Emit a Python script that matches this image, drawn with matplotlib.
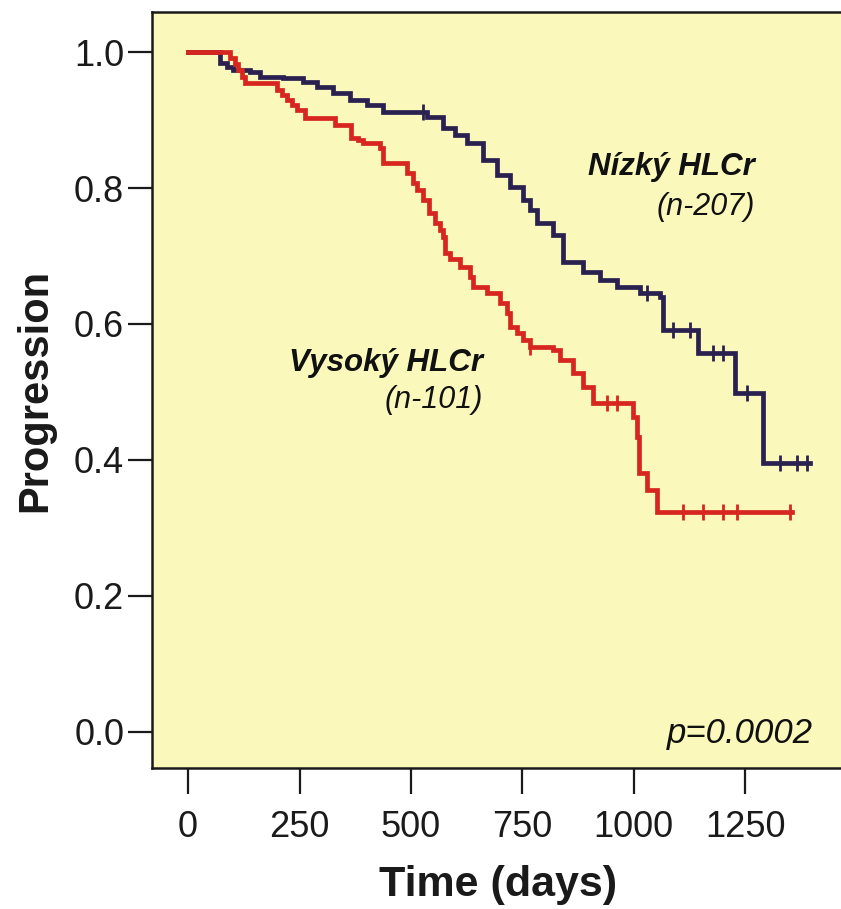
import numpy as np
import matplotlib
matplotlib.use("Agg")
import matplotlib.pyplot as plt

plt.rcParams['font.family'] = ['Liberation Sans', 'DejaVu Sans']

# Kaplan-Meier steps: time (days) and progression-free fraction after each event
low_t = [0, 72, 88, 101, 139, 162, 213, 258, 290, 325, 364, 402, 438, 536, 572,
         599, 626, 662, 693, 722, 752, 768, 783, 819, 842, 886, 925, 963, 1014,
         1059, 1066, 1145, 1228, 1290, 1396]
low_s = [1.0, 0.984, 0.978, 0.974, 0.971, 0.963, 0.962, 0.956, 0.948, 0.940,
         0.929, 0.922, 0.912, 0.905, 0.888, 0.878, 0.866, 0.841, 0.819, 0.801,
         0.782, 0.767, 0.748, 0.731, 0.691, 0.676, 0.665, 0.654, 0.646, 0.639,
         0.591, 0.557, 0.498, 0.396, 0.396]
low_cens = [528, 1030, 1088, 1127, 1178, 1200, 1254, 1329, 1367, 1389]

high_t = [0, 94, 105, 113, 120, 128, 200, 211, 222, 233, 244, 262, 330, 366, 382,
          393, 431, 438, 491, 505, 514, 527, 540, 555, 566, 572, 577, 588, 610,
          633, 640, 671, 700, 716, 723, 738, 752, 768, 819, 835, 864, 886, 909,
          999, 1008, 1012, 1030, 1052, 1355]
high_s = [1.0, 0.991, 0.982, 0.974, 0.963, 0.954, 0.944, 0.937, 0.929, 0.922,
          0.915, 0.903, 0.892, 0.874, 0.870, 0.866, 0.859, 0.837, 0.822, 0.807,
          0.797, 0.782, 0.763, 0.748, 0.738, 0.728, 0.704, 0.695, 0.684, 0.669,
          0.654, 0.646, 0.631, 0.616, 0.595, 0.587, 0.576, 0.566, 0.562, 0.547,
          0.528, 0.507, 0.484, 0.463, 0.434, 0.381, 0.356, 0.323, 0.323]
high_cens = [768, 940, 963, 1111, 1155, 1200, 1232, 1351]

xticks = [0, 250, 500, 750, 1000, 1250]
yticks = [0.0, 0.2, 0.4, 0.6, 0.8, 1.0]

BG = '#FBF8BC'
RED = '#D6261F'
NAVY = '#2B2150'


def surv_at(t, s, x):
    i = np.searchsorted(t, x, side='right') - 1
    return np.asarray(s)[i]


fig = plt.figure(figsize=(8.41, 9.09), dpi=100)
ax = fig.add_axes([152 / 841, 141 / 909, 689 / 841, 756 / 909])
ax.set_facecolor(BG)

ax.step(low_t, low_s, where='post', color=NAVY, lw=3.4, solid_joinstyle='miter')
ax.step(high_t, high_s, where='post', color=RED, lw=3.4, solid_joinstyle='miter')
ax.plot(low_cens, surv_at(low_t, low_s, low_cens), ls='none', marker='|',
        ms=11, mew=2, color=NAVY)
ax.plot(high_cens, surv_at(high_t, high_s, high_cens), ls='none', marker='|',
        ms=11, mew=2, color=RED)

ax.set_xlim(-81, 1465)
ax.set_ylim(-0.0534, 1.059)
ax.set_xticks(xticks)
ax.set_yticks(yticks)
ax.set_xticklabels([str(v) for v in xticks])
ax.set_yticklabels(['%.1f' % v for v in yticks])
ax.tick_params(axis='x', direction='out', length=19, width=1.6, pad=11,
               labelsize=26, colors='#1a1a1a')
ax.tick_params(axis='y', direction='out', length=17, width=1.6, pad=3,
               labelsize=26, colors='#1a1a1a')

for side in ('left', 'bottom', 'top'):
    ax.spines[side].set_linewidth(1.8)
    ax.spines[side].set_color('#1a1a1a')
ax.spines['right'].set_visible(False)

ax.text(1272, 0.831, 'Nízký HLCr', ha='right', va='center', fontsize=22.5,
        fontweight='bold', fontstyle='italic', color='#111111')
ax.text(1272, 0.772, '(n-207)', ha='right', va='center', fontsize=22,
        fontstyle='italic', color='#111111')
ax.text(662, 0.542, 'Vysoký HLCr', ha='right', va='center', fontsize=22.5,
        fontweight='bold', fontstyle='italic', color='#111111')
ax.text(662, 0.488, '(n-101)', ha='right', va='center', fontsize=22,
        fontstyle='italic', color='#111111')
ax.text(1403, -0.002, 'p=0.0002', ha='right', va='center', fontsize=25,
        fontstyle='italic', color='#111111')

fig.text(35 / 841, 1 - 390 / 909, 'Progression', rotation=90, ha='center',
         va='center', fontsize=30, fontweight='bold', color='#1a1a1a')
fig.text(498 / 841, 1 - 885 / 909, 'Time (days)', ha='center', va='center',
         fontsize=31, fontweight='bold', color='#1a1a1a')

fig.savefig('out.png', dpi=100, facecolor='white')
